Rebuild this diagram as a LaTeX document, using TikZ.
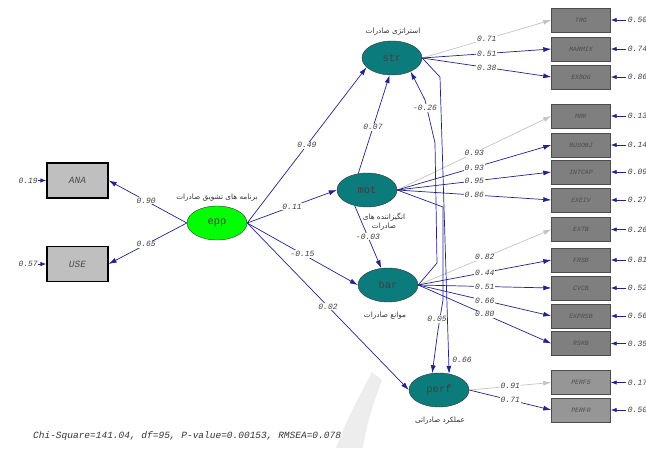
\documentclass[tikz,border=0pt]{standalone}
\usepackage{fontspec}
\setmonofont{Liberation Mono}
\newfontfamily\arabicfont[Script=Arabic]{DejaVu Sans}
\TeXXeTstate=1
\usetikzlibrary{shapes.geometric,arrows.meta}
\definecolor{navy}{HTML}{22228C}
\definecolor{fixg}{HTML}{C4C4C4}
\definecolor{teal2}{HTML}{0C7B7B}
\definecolor{boxg}{HTML}{7F7F7F}
\definecolor{boxl}{HTML}{969696}
\tikzset{
  lat/.style={ellipse,draw=black!80,fill=teal2,minimum width=60pt,minimum height=34pt,inner sep=0pt,font=\ttfamily\fontsize{10.5}{10}\selectfont,text=black!75},
  obs/.style={rectangle,draw=black!70,fill=boxg,minimum width=59pt,minimum height=24pt,inner sep=0pt,font=\ttfamily\itshape\fontsize{6.5}{7}\selectfont,text=black!70},
  obsl/.style={obs,fill=boxl},
  obsx/.style={rectangle,draw=black,line width=1.3pt,fill=black!25,minimum width=61pt,minimum height=35pt,inner sep=0pt,font=\ttfamily\itshape\fontsize{9.5}{10}\selectfont,text=black!70},
  pth/.style={draw=navy,line width=0.7pt,-{Latex[length=8pt,width=5pt]}},
  fix/.style={draw=fixg,line width=0.7pt,-{Latex[length=8pt,width=5pt]}},
  err/.style={draw=navy,line width=0.9pt,-{Latex[length=6pt,width=4.5pt]}},
  lbl/.style={fill=white,inner sep=0.8pt,font=\ttfamily\itshape\fontsize{8}{8}\selectfont,text=black!75},
  evl/.style={inner sep=0pt,font=\ttfamily\itshape\fontsize{8}{8}\selectfont,text=black!75},
  fa/.style={inner sep=0pt,font=\arabicfont\fontsize{7.3}{9}\selectfont,text=black!80,align=center},
}
\begin{document}
\begin{tikzpicture}[x=1pt,y=-1pt]
\useasboundingbox (0,0) rectangle (646,448);
% faint watermark
\fill[black!7] (336,448) .. controls (346,420) and (360,395) .. (372,372) -- (382,380) .. controls (374,402) and (366,425) .. (363,448) -- cycle;
% latent variables
\node[lat,fill=green] (epp) at (217,223) {epp};
\node[lat] (str) at (392,58) {str};
\node[lat] (mot) at (367,190) {mot};
\node[lat] (bar) at (388,285) {bar};
\node[lat] (perf) at (439,390) {perf};
% latent labels
\node[fa] (lepp) at (217,198) {\beginR برنامه های تشویق صادرات\endR};
\node[fa] (lstr) at (393,32) {\beginR استراتژی صادرات\endR};
\node[fa] (lmot) at (384,222) {\beginR انگیزاننده های\endR\\\beginR صادرات\endR};
\node[fa] (lbar) at (385,316) {\beginR موانع صادرات\endR};
\node[fa] (lperf) at (440,421) {\beginR عملکرد صادراتی\endR};
% left indicators
\node[obsx] (ANA) at (77.5,180.5) {ANA};
\node[obsx] (USE) at (77.5,264) {USE};
\coordinate (eANA) at (38,180.5);
\coordinate (eUSE) at (38,264);
\draw[err] (eANA) -- (ANA.west);
\draw[err] (eUSE) -- (USE.west);
\node[evl,anchor=east] at (eANA) {0.19};
\node[evl,anchor=east] at (eUSE) {0.57};
\draw[pth] (epp.west) -- node[lbl,pos=0.52]{0.90} (ANA.east);
\draw[pth] (epp.west) -- node[lbl,pos=0.52]{0.65} (USE.east);
% right indicators
\foreach \n/\y/\st/\e in {TRG/20/obs/0.50, MARMIX/49/obs/0.74, EXBOG/77/obs/0.86,
   MRK/116/obs/0.13, BUSOBJ/145/obs/0.14, INTCAP/172/obs/0.09, EXEIV/200/obs/0.27,
   EXTB/229.5/obs/0.26, FRSB/260/obs/0.81, CVCB/288/obs/0.52, EXPRSB/316/obs/0.56, RSKB/343.5/obs/0.35,
   PERF5/382.5/obsl/0.17, PERF0/410/obsl/0.50}{
  \node[\st] (\n) at (581,\y) {\n};
  \coordinate (e\n) at ([xshift=15pt]\n.east);
  \draw[err] (e\n) -- (\n.east);
  \node[evl,anchor=west] at ([xshift=2pt]e\n) {\e};
}
% measurement paths
\draw[fix] (str.east) -- node[lbl]{0.71} (TRG.west);
\draw[pth] (str.east) -- node[lbl]{0.51} (MARMIX.west);
\draw[pth] (str.east) -- node[lbl]{0.38} (EXBOG.west);
\draw[fix] (mot.east) -- node[lbl]{0.93} (MRK.west);
\draw[pth] (mot.east) -- node[lbl]{0.93} (BUSOBJ.west);
\draw[pth] (mot.east) -- node[lbl]{0.95} (INTCAP.west);
\draw[pth] (mot.east) -- node[lbl]{0.86} (EXEIV.west);
\draw[fix] (bar.east) -- node[lbl]{0.82} (EXTB.west);
\draw[pth] (bar.east) -- node[lbl]{0.44} (FRSB.west);
\draw[pth] (bar.east) -- node[lbl]{0.51} (CVCB.west);
\draw[pth] (bar.east) -- node[lbl]{0.66} (EXPRSB.west);
\draw[pth] (bar.east) -- node[lbl]{0.80} (RSKB.west);
\draw[fix] (perf.east) -- node[lbl]{0.91} (PERF5.west);
\draw[pth] (perf.east) -- node[lbl]{0.71} (PERF0.west);
% structural paths
\draw[pth] (epp.east) -- node[lbl]{0.49} (str.200);
\draw[pth] (epp.east) -- node[lbl]{0.11} (mot.west);
\draw[pth] (epp.east) -- node[lbl]{-0.15} (bar.west);
\draw[pth] (epp.east) -- node[lbl]{0.02} (perf.west);
\draw[pth] (mot.118) -- node[lbl,pos=0.47]{0.07} (str.262);
\draw[pth] (mot.232) -- node[lbl]{-0.03} (bar.112);
\draw[pth] (bar.east) -- (437,263) -- (435,143) -- (425,100) -- (str.-36);
\node[lbl] at (425,108) {-0.26};
\draw[pth] (mot.east) -- (443,207) -- (443,300) -- (438,330) -- (perf.112);
\node[lbl] at (437,319) {0.05};
\draw[pth] (str.east) -- (440,77) -- (perf.58);
\node[lbl] at (462,360) {0.66};
% fit
\node[inner sep=0pt,anchor=west,font=\ttfamily\itshape\fontsize{9.5}{10}\selectfont,text=black!80] (fit) at (33,436) {Chi-Square=141.04, df=95, P-value=0.00153, RMSEA=0.078};
\end{tikzpicture}
\end{document}
